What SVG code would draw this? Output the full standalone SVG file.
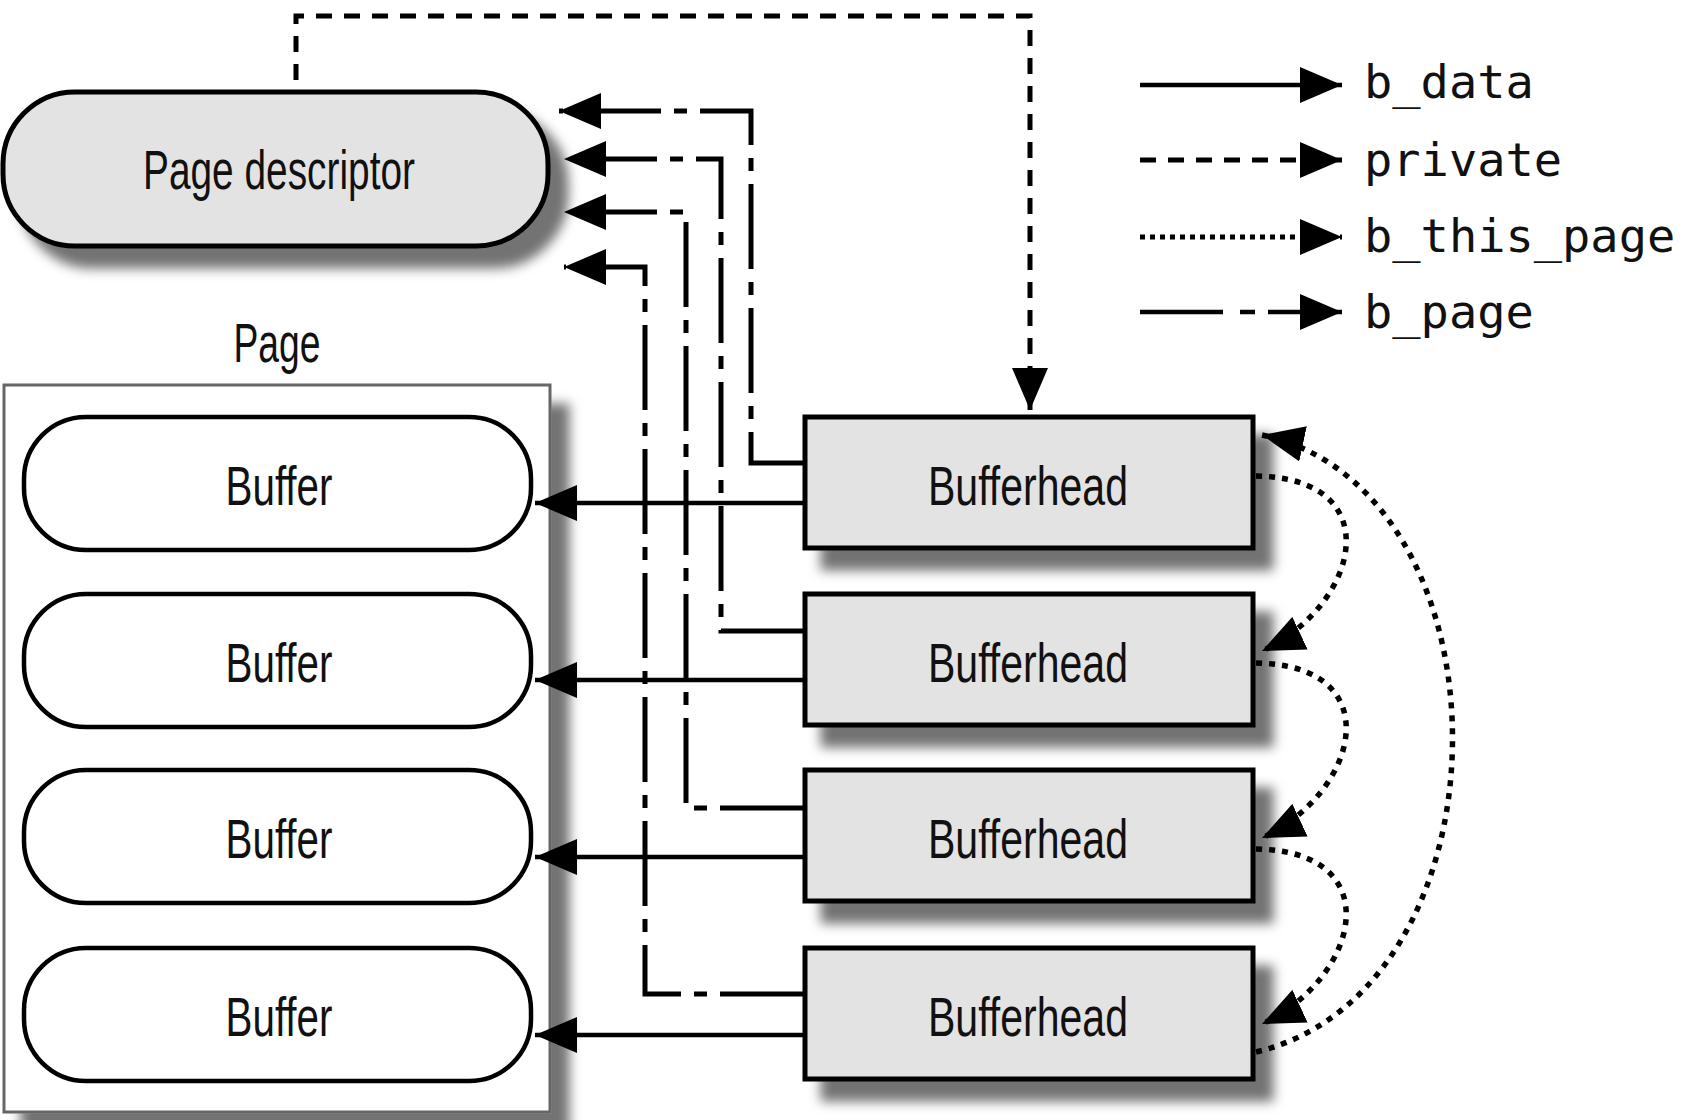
<svg xmlns="http://www.w3.org/2000/svg" width="1685" height="1120" viewBox="0 0 1685 1120">
  <defs>
    <marker id="arrow" markerUnits="userSpaceOnUse" markerWidth="42" markerHeight="36" viewBox="0 0 42 36" refX="42" refY="18" orient="auto">
      <path d="M0,0 L42,18 L0,36 z" fill="#000"/>
    </marker>
    <filter id="shadow" x="-10%" y="-10%" width="130%" height="150%">
      <feGaussianBlur in="SourceAlpha" stdDeviation="6"/>
      <feOffset dx="18" dy="20" result="blur"/>
      <feFlood flood-color="#000" flood-opacity="0.55"/>
      <feComposite in2="blur" operator="in"/>
      <feMerge>
        <feMergeNode/>
        <feMergeNode in="SourceGraphic"/>
      </feMerge>
    </filter>
    <style>
      .conn { fill: none; stroke: #000; stroke-width: 4.5; }
      .private { stroke-dasharray: 16 12; stroke-width: 5; }
      .thispage { stroke-dasharray: 6 7; stroke-width: 5.5; }
      .key-dots { stroke-dasharray: 5 5; stroke-width: 5; }
      .bpage { stroke-dasharray: 85 13 13 13; stroke-width: 5; }
      .box { fill: #e3e3e3; stroke: #000; stroke-width: 5; }
      .buf { fill: #fff; stroke: #000; stroke-width: 4.5; }
      .lbl { font-family: "Liberation Sans", Arial, sans-serif; font-size: 56px; text-anchor: middle; fill: #111; }
      .mono { font-family: "DejaVu Sans Mono", "Liberation Mono", monospace; font-size: 47px; fill: #111; }
    </style>
  </defs>

  <rect width="1685" height="1120" fill="#fff"/>

  <!-- page frame holding the buffers -->
  <g id="page">
    <rect x="4" y="385" width="546" height="727" fill="#fff" stroke="#666" stroke-width="3" filter="url(#shadow)"/>
    <text class="lbl" x="277" y="362" textLength="87" lengthAdjust="spacingAndGlyphs">Page</text>
  </g>

  <g id="buffer1">
    <rect class="buf" x="24" y="417" width="507" height="133" rx="62" ry="62"/>
    <text class="lbl" x="279" y="505" textLength="107" lengthAdjust="spacingAndGlyphs">Buffer</text>
  </g>
  <g id="buffer2">
    <rect class="buf" x="24" y="594" width="507" height="133" rx="62" ry="62"/>
    <text class="lbl" x="279" y="682" textLength="107" lengthAdjust="spacingAndGlyphs">Buffer</text>
  </g>
  <g id="buffer3">
    <rect class="buf" x="24" y="770" width="507" height="133" rx="62" ry="62"/>
    <text class="lbl" x="279" y="858" textLength="107" lengthAdjust="spacingAndGlyphs">Buffer</text>
  </g>
  <g id="buffer4">
    <rect class="buf" x="24" y="948" width="507" height="133" rx="62" ry="62"/>
    <text class="lbl" x="279" y="1036" textLength="107" lengthAdjust="spacingAndGlyphs">Buffer</text>
  </g>

  <g id="page-descriptor">
    <rect class="box" x="3" y="92" width="545" height="154" rx="72" ry="72" filter="url(#shadow)"/>
    <text class="lbl" x="279" y="189" textLength="272" lengthAdjust="spacingAndGlyphs">Page descriptor</text>
  </g>

  <g id="bufferhead1">
    <rect class="box" x="805" y="417" width="448" height="131" filter="url(#shadow)"/>
    <text class="lbl" x="1028" y="505" textLength="200" lengthAdjust="spacingAndGlyphs">Bufferhead</text>
  </g>
  <g id="bufferhead2">
    <rect class="box" x="805" y="594" width="448" height="131" filter="url(#shadow)"/>
    <text class="lbl" x="1028" y="682" textLength="200" lengthAdjust="spacingAndGlyphs">Bufferhead</text>
  </g>
  <g id="bufferhead3">
    <rect class="box" x="805" y="770" width="448" height="131" filter="url(#shadow)"/>
    <text class="lbl" x="1028" y="858" textLength="200" lengthAdjust="spacingAndGlyphs">Bufferhead</text>
  </g>
  <g id="bufferhead4">
    <rect class="box" x="805" y="948" width="448" height="131" filter="url(#shadow)"/>
    <text class="lbl" x="1028" y="1036" textLength="200" lengthAdjust="spacingAndGlyphs">Bufferhead</text>
  </g>

  <g id="connectors">
    <!-- b_data: bufferhead to its buffer -->
    <path class="conn" d="M805,503 L535,503" marker-end="url(#arrow)"/>
    <path class="conn" d="M805,680 L535,680" marker-end="url(#arrow)"/>
    <path class="conn" d="M805,857 L535,857" marker-end="url(#arrow)"/>
    <path class="conn" d="M805,1035 L535,1035" marker-end="url(#arrow)"/>

    <!-- b_page: bufferhead back to the page descriptor -->
    <path class="conn bpage" d="M805,463 L751,463 L751,111 L559,111" marker-end="url(#arrow)"/>
    <path class="conn bpage" d="M805,631 L721,631 L721,159 L564,159" marker-end="url(#arrow)"/>
    <path class="conn bpage" d="M805,808 L686,808 L686,212 L564,212" marker-end="url(#arrow)"/>
    <path class="conn bpage" d="M805,994 L645,994 L645,267 L564,267" marker-end="url(#arrow)"/>

    <!-- private: page descriptor to first bufferhead -->
    <path class="conn private" d="M296,80 L296,16 L1030,16 L1030,410" marker-end="url(#arrow)"/>

    <!-- b_this_page: circular list of bufferheads -->
    <path class="conn thispage" d="M1256,476 C1390,478 1360,605 1262,651" marker-end="url(#arrow)"/>
    <path class="conn thispage" d="M1256,663 C1390,665 1360,792 1262,838" marker-end="url(#arrow)"/>
    <path class="conn thispage" d="M1256,849 C1390,851 1360,978 1262,1024" marker-end="url(#arrow)"/>
    <path class="conn thispage" d="M1256,1052 C1517,990 1517,490 1262,435" marker-end="url(#arrow)"/>
  </g>

  <!-- key of line styles -->
  <g id="legend">
    <path class="conn" d="M1140,85 L1342,85" marker-end="url(#arrow)"/>
    <path class="conn private" d="M1140,160 L1342,160" marker-end="url(#arrow)"/>
    <path class="conn key-dots" d="M1140,237 L1342,237" marker-end="url(#arrow)"/>
    <path class="conn" d="M1140,312 L1223,312 M1240,312 L1255,312 M1268,312 L1342,312" marker-end="url(#arrow)"/>
    <text class="mono" x="1364" y="98">b_data</text>
    <text class="mono" x="1364" y="176">private</text>
    <text class="mono" x="1364" y="252">b_this_page</text>
    <text class="mono" x="1364" y="328">b_page</text>
  </g>
</svg>
